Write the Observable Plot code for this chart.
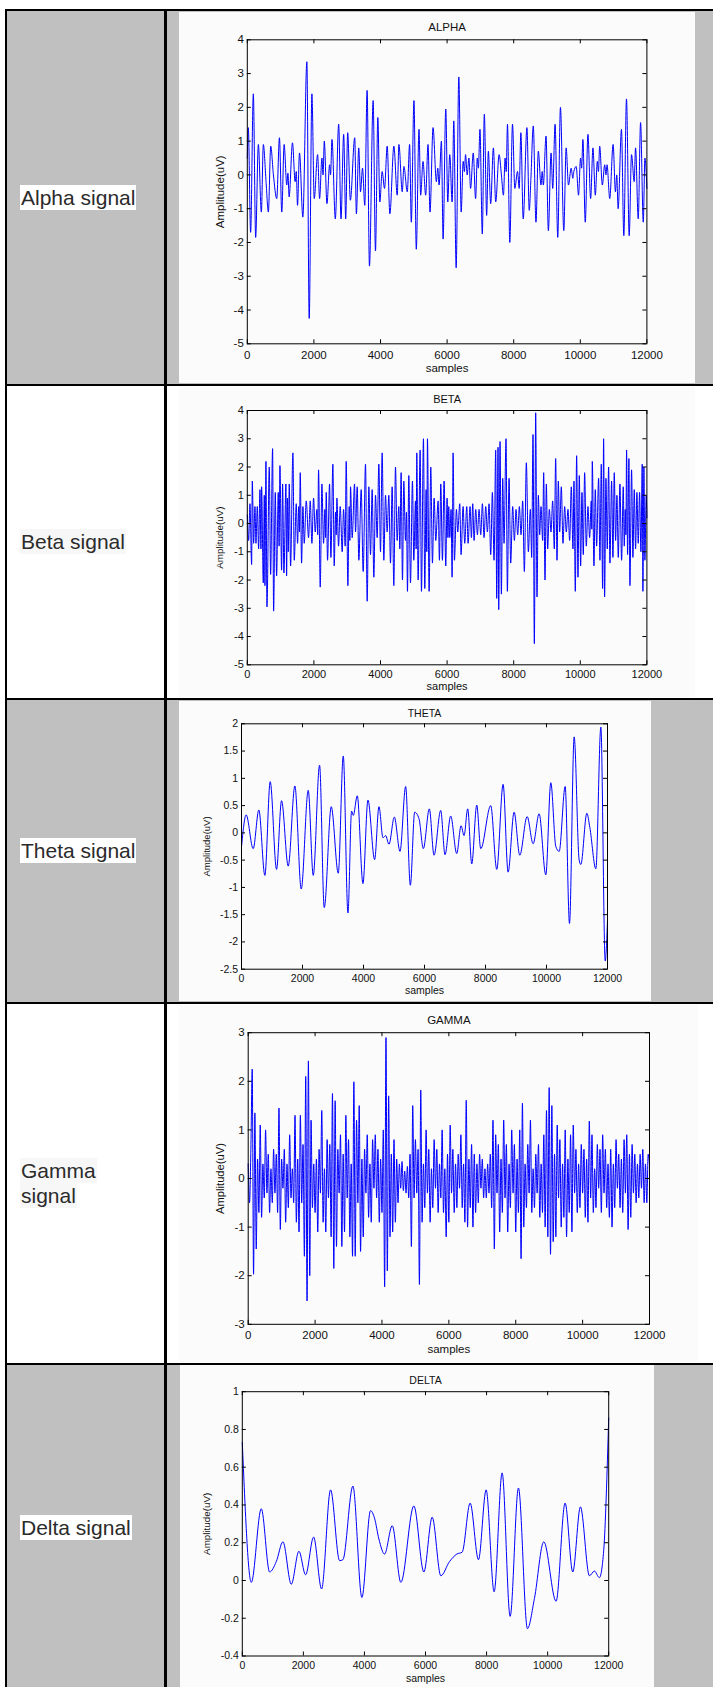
<!DOCTYPE html>
<html><head><meta charset="utf-8">
<script src="https://cdn.jsdelivr.net/npm/d3@7"></script>
<script src="https://cdn.jsdelivr.net/npm/@observablehq/plot@0.6"></script>
<style>
html,body{margin:0;padding:0;background:#fff;}
#page{position:relative;width:713px;height:1687px;overflow:hidden;font-family:"Liberation Sans",Arial,sans-serif;background:#fff;}
.bg{position:absolute;background:#c0c0c0;left:6px;right:0;}
.ln{position:absolute;background:#000;}
.lbl{position:absolute;left:20px;font-size:21px;color:#2b2b2b;}
.lbl span{display:inline-block;line-height:25px;height:25px;padding:0 1px;background:#fff;white-space:nowrap;}
.lbl.w span{background:#f7f7f7;}
.img{position:absolute;background:#fbfbfb;}
.img svg{display:block;}
</style></head>
<body>
<div id="page">
  <div class="bg" style="top:11px;height:373px"></div>
  <div class="bg" style="top:700px;height:302px"></div>
  <div class="bg" style="top:1364px;height:323px"></div>
  <div class="lbl" style="top:185px"><span>Alpha signal</span></div>
  <div class="lbl w" style="top:529px"><span>Beta signal</span></div>
  <div class="lbl" style="top:838px"><span>Theta signal</span></div>
  <div class="lbl w" style="top:1158px"><span>Gamma</span><br><span>signal</span></div>
  <div class="lbl" style="top:1515px"><span>Delta signal</span></div>
</div>
<script>
// ---------- data (samples, amplitude uV) ----------
const xTicks = [0, 2000, 4000, 6000, 8000, 10000, 12000];
const alphaTicks = [-5, -4, -3, -2, -1, 0, 1, 2, 3, 4];
const betaTicks = [-5, -4, -3, -2, -1, 0, 1, 2, 3, 4];
const thetaTicks = [-2.5, -2, -1.5, -1, -0.5, 0, 0.5, 1, 1.5, 2];
const gammaTicks = [-3, -2, -1, 0, 1, 2, 3];
const deltaTicks = [-0.4, -0.2, 0, 0.2, 0.4, 0.6, 0.8, 1];
const titles = ["ALPHA", "BETA", "THETA", "GAMMA", "DELTA"];

const alphaPoints = [[0,0.5],[30,1.4],[100,-1.7],[181,2.4],[251,-1.85],[332,0.9],[422,-1.1],[482,0.9],[563,-0.2],[633,-1.1],[704,0.85],[784,0],[884,-0.7],[965,1.1],[1035,-1.1],[1106,0.9],[1186,-0.3],[1220,0.05],[1256,-0.65],[1357,0.95],[1437,-0.2],[1470,0.1],[1508,-0.9],[1568,0.65],[1668,-1.25],[1789,3.35],[1859,-4.25],[1940,2.4],[2010,-0.7],[2111,0.6],[2171,-0.7],[2241,0.5],[2275,0],[2312,1.0],[2392,-0.85],[2472,0.3],[2500,0],[2543,1.05],[2643,-1.3],[2744,1.5],[2814,-1.3],[2894,1.2],[2955,-1.3],[3015,1.25],[3095,-0.75],[3226,1.1],[3276,-1.15],[3347,0.8],[3400,-0.5],[3460,0.2],[3528,-0.9],[3598,2.5],[3668,-2.7],[3779,2.2],[3849,-2.25],[3920,1.7],[3980,-0.8],[4050,0.1],[4121,-0.4],[4201,0.85],[4281,-1.15],[4402,0.85],[4502,-0.6],[4553,0.9],[4653,-0.5],[4703,0.25],[4804,-0.5],[4874,0.9],[4925,-1.4],[5005,2.2],[5075,-2.2],[5156,1.35],[5206,-0.6],[5276,0.4],[5357,-0.6],[5427,0.9],[5487,-1.1],[5578,1.4],[5678,-0.2],[5720,0.2],[5759,-0.3],[5829,1.0],[5880,-1.9],[5960,1.95],[6020,-0.8],[6080,0.6],[6151,-0.8],[6201,1.6],[6272,-2.75],[6352,2.9],[6423,-1.1],[6483,0.4],[6520,0.1],[6554,0.6],[6604,0],[6655,0.5],[6705,-0.4],[6785,0.65],[6856,-0.7],[6906,0.5],[6940,0.2],[6987,1.35],[7057,-1.75],[7118,1.8],[7188,-1.2],[7239,0.7],[7309,-0.85],[7390,0.8],[7460,-0.8],[7561,0.6],[7631,0],[7692,-0.6],[7742,0.5],[7775,0.1],[7813,1.5],[7883,-2.0],[7964,1.5],[8034,-0.4],[8115,0.1],[8165,-0.4],[8215,1.25],[8286,-1.3],[8397,1.4],[8467,-1.05],[8517,-0.1],[8588,1.45],[8669,-1.4],[8739,0.7],[8820,-0.3],[8855,0.1],[8890,-0.3],[8971,1.15],[9041,-1.65],[9122,0.65],[9172,-0.4],[9243,1.5],[9323,-1.85],[9404,2.0],[9504,-1.65],[9575,0.8],[9645,-0.3],[9726,0.2],[9776,-0.1],[9806,0.1],[9877,0.25],[9947,-0.6],[10008,0.5],[10040,0.2],[10078,1.05],[10149,-1.4],[10229,1.2],[10310,-0.7],[10380,0.8],[10451,-0.6],[10511,0.4],[10545,0.1],[10582,0.85],[10662,-0.3],[10733,0.3],[10770,0],[10803,0.3],[10884,-0.7],[10985,0.9],[11055,-0.5],[11095,0],[11136,-1.0],[11236,1.35],[11307,-1.8],[11387,2.25],[11468,-1.8],[11538,0.6],[11619,-0.2],[11659,0.8],[11740,-1.3],[11810,1.55],[11891,-1.4],[11941,0.5],[12000,-0.4]];

const betaPoints = [[0,0.3],[40,-0.6],[80,0.7],[130,-1.45],[150,1.5],[190,-0.7],[230,0.6],[260,-0.7],[300,0.6],[340,-0.9],[380,1.2],[410,-0.9],[430,1.3],[480,-2.1],[510,1.0],[530,-2.2],[560,2.2],[590,-2.95],[660,2.0],[700,-1.8],[760,2.65],[790,-3.1],[840,1.1],[880,-1.85],[930,1.1],[955,-0.8],[980,2.05],[1030,-1.65],[1060,1.4],[1100,-1.75],[1160,1.4],[1180,-1.85],[1205,0.9],[1230,-1.0],[1260,1.4],[1300,-1.5],[1370,2.5],[1410,-1.3],[1470,0.7],[1510,-0.7],[1545,0.6],[1565,-0.3],[1590,1.8],[1630,-1.4],[1670,0.6],[1710,-0.7],[1770,0.8],[1840,-0.5],[1890,0.8],[1940,-0.7],[1990,0.9],[2040,-0.3],[2090,0.5],[2115,-0.4],[2140,1.9],[2190,-2.25],[2240,1.4],[2290,-0.7],[2330,0.5],[2350,-0.5],[2370,1.1],[2410,-1.3],[2470,1.4],[2510,-1.2],[2570,2.1],[2610,-1.5],[2650,0.4],[2670,-0.4],[2690,0.9],[2740,-0.8],[2790,0.6],[2850,-1.0],[2890,0.5],[2940,-0.8],[2970,2.2],[3020,-2.2],[3060,0.6],[3080,-0.6],[3100,1.3],[3150,-0.5],[3220,1.4],[3250,-0.3],[3300,1.3],[3350,-1.3],[3420,1.2],[3480,-1.7],[3550,2.1],[3600,-2.75],[3650,1.3],[3700,-1.1],[3750,1.2],[3800,-1.9],[3850,1.0],[3900,-0.5],[3950,2.1],[4000,-1.0],[4050,2.5],[4100,-1.3],[4150,1.0],[4200,-0.3],[4250,1.0],[4300,-1.4],[4350,1.3],[4400,-2.2],[4450,2.0],[4500,-0.6],[4550,0.6],[4580,-0.9],[4620,1.8],[4660,-2.0],[4700,1.5],[4750,-0.6],[4780,0.4],[4810,-2.4],[4850,1.7],[4900,-2.1],[4960,1.5],[5000,-1.3],[5050,0.8],[5070,-0.9],[5090,2.5],[5130,-2.0],[5190,2.6],[5230,-2.4],[5290,3.0],[5330,-2.3],[5370,1.2],[5390,-1.0],[5410,3.0],[5460,-2.4],[5510,2.0],[5560,-1.4],[5610,0.9],[5660,-0.6],[5730,0.8],[5770,-1.3],[5810,1.4],[5860,-1.3],[5910,1.5],[5960,-1.5],[6000,0.9],[6025,-0.5],[6050,0.6],[6080,-0.5],[6120,0.5],[6150,-1.9],[6180,2.5],[6220,-1.3],[6280,0.5],[6320,-0.3],[6380,0.7],[6420,-1.1],[6480,0.6],[6530,-0.7],[6590,0.6],[6630,-0.7],[6690,0.6],[6730,-0.5],[6770,0.7],[6810,-0.6],[6860,0.5],[6910,-0.4],[6960,0.5],[7010,-0.4],[7060,0.7],[7110,-0.5],[7160,0.6],[7210,-0.3],[7260,0.7],[7310,-1.1],[7360,1.1],[7410,-1.3],[7460,2.6],[7490,-2.65],[7530,2.7],[7550,-3.05],[7590,2.9],[7630,-2.5],[7670,1.6],[7710,-0.7],[7770,3.0],[7810,-2.4],[7860,1.6],[7910,-1.4],[7970,0.6],[8020,-0.6],[8070,0.5],[8120,-0.4],[8170,0.6],[8220,-0.4],[8270,0.8],[8320,-1.7],[8380,2.15],[8440,-1.0],[8500,0.5],[8540,-1.2],[8580,3.15],[8620,-4.25],[8660,3.92],[8700,-2.6],[8740,1.0],[8780,-0.4],[8820,0.6],[8870,-0.6],[8900,1.8],[8940,-2.0],[8980,1.4],[9020,-0.9],[9070,0.5],[9120,-0.3],[9170,0.8],[9220,-0.9],[9260,2.3],[9300,-1.3],[9340,1.5],[9380,-0.3],[9430,1.3],[9480,-0.7],[9530,0.6],[9580,-0.3],[9630,0.5],[9680,-0.6],[9730,1.3],[9780,-0.9],[9810,1.5],[9850,-2.4],[9890,2.4],[9930,-1.9],[9970,1.7],[10010,-1.5],[10050,1.1],[10090,-1.1],[10130,1.8],[10180,-0.8],[10230,0.6],[10280,-0.5],[10330,0.8],[10345,-0.2],[10360,2.2],[10410,-1.5],[10450,1.2],[10490,-0.8],[10550,1.6],[10590,-1.3],[10630,2.1],[10670,-2.3],[10700,3.0],[10730,-2.6],[10770,1.6],[10810,-0.9],[10850,2.0],[10890,-1.4],[10940,1.5],[10980,-1.2],[11020,1.8],[11060,-0.6],[11100,1.0],[11140,-1.2],[11190,1.4],[11240,-1.3],[11290,1.3],[11320,-0.8],[11350,0.5],[11370,-0.4],[11390,2.6],[11420,-1.1],[11460,2.3],[11490,-2.2],[11540,1.9],[11580,-1.2],[11620,1.2],[11660,-0.9],[11700,1.1],[11740,-0.7],[11780,1.1],[11820,-1.0],[11860,2.1],[11880,-2.4],[11910,2.0],[11940,-1.3],[11980,1.0],[12000,0.2]];

const thetaPoints = [[0,-0.26],[153,0.33],[383,-0.29],[569,0.42],[766,-0.78],[941,0.94],[1149,-0.67],[1313,0.59],[1532,-0.61],[1750,0.86],[1958,-1.03],[2188,0.78],[2352,-0.78],[2560,1.24],[2713,-1.37],[2943,0.48],[3173,-0.74],[3337,1.41],[3490,-1.47],[3610,0.4],[3665,0.32],[3796,0.68],[3982,-0.93],[4146,0.6],[4365,-0.49],[4507,0.48],[4639,-0.09],[4726,-0.05],[4835,-0.21],[5011,0.29],[5197,-0.34],[5382,0.85],[5536,-0.96],[5678,0.38],[5820,0.26],[5962,-0.29],[6159,0.44],[6312,-0.41],[6531,0.41],[6673,-0.4],[6859,0.31],[7056,-0.38],[7199,0.13],[7297,-0.05],[7417,0.44],[7549,-0.57],[7713,0.51],[7844,-0.29],[8172,0.5],[8369,-0.67],[8577,0.89],[8741,-0.72],[8938,0.38],[9124,-0.41],[9365,0.3],[9562,-0.2],[9758,0.35],[9977,-0.77],[10141,0.92],[10305,-0.25],[10415,-0.34],[10612,0.85],[10754,-1.66],[10907,1.76],[11071,-0.5],[11126,-0.58],[11323,0.36],[11421,0.1],[11618,-0.66],[11782,1.94],[11925,-2.35],[12000,-1.6]];

// gamma: dense signal, one reading every 40 samples
const gammaStep = 40;
const gammaValues = [
 0.3,-0.5,0.6,2.25,-1.97,1.35,-1.45,0.4,-0.7,1.1,
 -0.8,0.3,-0.4,1.0,-0.3,0.5,-0.7,0.2,-0.5,0.6,
 -0.3,0.5,-0.7,1.45,-1.05,0.4,-0.2,0.6,-0.9,0.3,
 -0.6,0.9,-0.4,0.2,-0.5,1.3,-0.9,0.4,-1.1,1.3,
 -0.5,0.7,-1.6,2.1,-2.52,2.42,-2.0,1.2,-0.6,0.3,
 -0.7,0.4,-1.1,0.6,-0.3,1.4,-0.9,0.2,-1.1,0.8,
 -0.4,0.7,-1.2,1.75,-1.85,1.6,-1.4,0.6,-0.3,0.9,
 -1.4,0.5,-1.1,1.3,-0.4,0.8,-1.2,0.3,-1.6,1.99,
 -1.6,1.2,-0.5,1.5,-1.5,0.4,-1.2,0.6,-0.3,0.9,
 -0.8,0.3,-0.9,0.8,-0.2,0.9,-0.4,0.6,-0.9,0.4,
 -0.7,1.0,-2.23,2.9,-1.9,1.7,-1.2,0.5,-1.1,0.8,
 -0.9,0.4,-0.5,0.3,-0.2,0.35,-0.25,0.15,-0.3,0.25,
 -0.4,0.5,-1.4,1.5,-0.4,0.8,-0.3,0.6,-2.18,1.82,
 -0.9,0.3,-0.6,1.0,-0.3,0.6,-0.9,0.2,-0.6,0.8,
 -0.2,0.6,-0.7,0.3,-0.4,1.0,-0.7,0.2,-1.2,0.5,
 -0.9,1.1,-0.3,0.6,-0.7,0.3,-0.6,0.5,-0.2,0.9,
 -0.6,0.3,-0.9,1.61,-1.0,0.4,-0.6,0.7,-1.0,0.5,
 -0.7,0.3,-0.5,0.5,-0.2,0.4,-0.4,0.2,-0.4,0.3,
 -0.3,0.5,-0.6,1.2,-1.45,0.9,-0.3,0.7,-1.1,0.4,
 -0.7,1.2,-0.4,0.7,-1.1,0.3,-0.6,1.0,-0.3,0.7,
 -1.1,0.4,-0.7,1.0,-1.65,1.55,-1.0,0.3,-0.6,0.7,
 -0.3,1.2,-0.7,0.2,-0.6,0.5,-0.3,0.7,-0.8,0.3,
 -0.7,0.9,-1.0,1.4,-1.2,1.87,-1.56,1.5,-1.3,0.5,
 -1.2,1.1,-0.4,0.8,-1.0,0.3,-0.8,1.0,-1.2,0.4,
 -0.7,0.9,-1.1,1.1,-0.3,0.6,-0.7,0.3,-0.6,0.7,
 -0.3,0.6,-0.8,0.4,-0.9,1.18,-0.4,0.9,-0.7,0.2,
 -0.6,0.7,-0.2,0.6,-0.7,0.9,-0.3,0.6,-0.6,0.3,
 -0.8,0.6,-1.0,0.3,-0.6,0.8,-0.2,0.5,-0.6,0.4,
 -0.7,0.8,-0.3,0.9,-1.05,0.5,-0.8,0.7,-0.3,0.5,
 -0.5,0.3,-0.4,0.5,-0.2,0.6,-0.5,0.3,-0.5,0.5,
 0.3];

const deltaPoints = [[0,0.73],[295,-0.01],[622,0.38],[895,0.045],[1113,0.1],[1331,0.205],[1604,-0.02],[1855,0.155],[2073,0.03],[2335,0.23],[2597,-0.045],[2891,0.48],[3186,0.105],[3295,0.11],[3622,0.5],[3917,-0.09],[4200,0.37],[4331,0.33],[4473,0.22],[4659,0.14],[4910,0.29],[5193,-0.01],[5619,0.395],[5946,0.045],[6219,0.335],[6502,0.025],[6786,0.1],[7026,0.14],[7201,0.15],[7462,0.41],[7735,0.11],[7986,0.48],[8248,-0.06],[8510,0.57],[8772,-0.19],[9044,0.49],[9339,-0.255],[9568,-0.095],[9874,0.205],[10277,-0.11],[10572,0.41],[10823,0.045],[11074,0.39],[11368,0.025],[11532,0.05],[11695,0.015],[11837,0.16],[12000,0.86]];

// ---------- layout ----------
const page = document.getElementById("page");
function line(l, t, w, h) {
  const d = document.createElement("div");
  d.className = "ln";
  Object.assign(d.style, {left: l + "px", top: t + "px", width: w + "px", height: h + "px"});
  page.appendChild(d);
}

const toRows = pts => pts.map(([s, v]) => ({s, v}));
const gammaRows = gammaValues.map((v, i) => ({s: i * gammaStep, v}));

const charts = [
  {title: titles[0], data: toRows(alphaPoints), dom: [-5, 4], yt: alphaTicks,
   box: [179, 12, 516, 371], fr: [246.8, 39.3, 646.4, 343.3],
   fs: 11.5, yfs: 11.5, titleY: 26.7, tickTop: 350, samplesY: 368.3, ylabX: 219.5},
  {title: titles[1], data: toRows(betaPoints), dom: [-5, 4], yt: betaTicks,
   box: [179, 387, 516, 310], fr: [246.8, 410, 646.4, 664.3],
   fs: 11, yfs: 9.8, titleY: 399.3, tickTop: 670, samplesY: 685.5, ylabX: 219.5},
  {title: titles[2], data: toRows(thetaPoints), dom: [-2.5, 2], yt: thetaTicks,
   box: [179, 701, 472, 300], fr: [241, 723.3, 607, 968.7],
   fs: 10.5, yfs: 9.5, titleY: 712.7, tickTop: 974, samplesY: 990, ylabX: 206.8},
  {title: titles[3], data: gammaRows, dom: [-3, 3], yt: gammaTicks,
   box: [179, 1004.5, 519, 357], fr: [247.7, 1031.7, 649, 1323.3],
   fs: 11.5, yfs: 11.2, titleY: 1019, tickTop: 1330, samplesY: 1348.5, ylabX: 219.5},
  {title: titles[4], data: toRows(deltaPoints), dom: [-0.4, 1], yt: deltaTicks,
   box: [180, 1364.5, 474, 323], fr: [241.8, 1390.7, 608.2, 1655],
   fs: 10.5, yfs: 9.8, titleY: 1379.3, tickTop: 1661, samplesY: 1677.7, ylabX: 206.8}
];

const fmt = d => String(d);
for (const c of charts) {
  const [bx, by, bw, bh] = c.box;
  const [fl, ft, frr, fb] = c.fr;
  const mL = fl - bx, mT = ft - by, mR = bx + bw - frr, mB = by + bh - fb;
  const fw = frr - fl, fh = fb - ft;
  const tick = 4;
  const svg = Plot.plot({
    width: bw, height: bh,
    marginLeft: mL, marginTop: mT, marginRight: mR, marginBottom: mB,
    x: {domain: [0, 12000]},
    y: {domain: c.dom},
    style: {background: "transparent", color: "#111", fontFamily: "'Liberation Sans', Arial, sans-serif", fontSize: c.fs + "px", overflow: "visible"},
    marks: [
      Plot.line(c.data, {x: "s", y: "v", stroke: "#0000ff", strokeWidth: 1, curve: "monotone-x"}),
      Plot.frame({stroke: "#000", strokeWidth: 1}),
      Plot.tickX(xTicks, {x: d => d, insetTop: fh - tick, stroke: "#000"}),
      Plot.tickX(xTicks, {x: d => d, insetBottom: fh - tick, stroke: "#000"}),
      Plot.tickY(c.yt, {y: d => d, insetRight: fw - tick, stroke: "#000"}),
      Plot.tickY(c.yt, {y: d => d, insetLeft: fw - tick, stroke: "#000"}),
      Plot.axisX(xTicks, {tickSize: 0, tickPadding: c.tickTop - fb, tickFormat: fmt, label: null, fontSize: c.fs}),
      Plot.axisY(c.yt, {tickSize: 0, tickPadding: 3.5, tickFormat: fmt, label: null, fontSize: c.fs}),
      Plot.text([c.title], {text: d => d, frameAnchor: "top", dy: c.titleY - ft, lineAnchor: "middle", fontSize: c.fs, fill: "#111"}),
      Plot.text(["samples"], {text: d => d, frameAnchor: "bottom", dy: c.samplesY - fb, lineAnchor: "middle", fontSize: c.fs, fill: "#111"}),
      Plot.text(["Amplitude(uV)"], {text: d => d, frameAnchor: "left", dx: c.ylabX - fl, rotate: -90, lineAnchor: "middle", textAnchor: "middle", fontSize: c.yfs, fill: "#111"})
    ]
  });
  const holder = document.createElement("div");
  holder.className = "img";
  Object.assign(holder.style, {left: bx + "px", top: by + "px", width: bw + "px", height: bh + "px"});
  holder.appendChild(svg);
  page.appendChild(holder);
}

// table rules
line(4.5, 9, 709, 2);
line(4.5, 384, 709, 2);
line(4.5, 698, 709, 2);
line(4.5, 1002, 709, 2);
line(4.5, 1362.5, 709, 2);
line(4.5, 9, 2, 1678);
line(164, 9, 2.5, 1678);
</script>
</body></html>
